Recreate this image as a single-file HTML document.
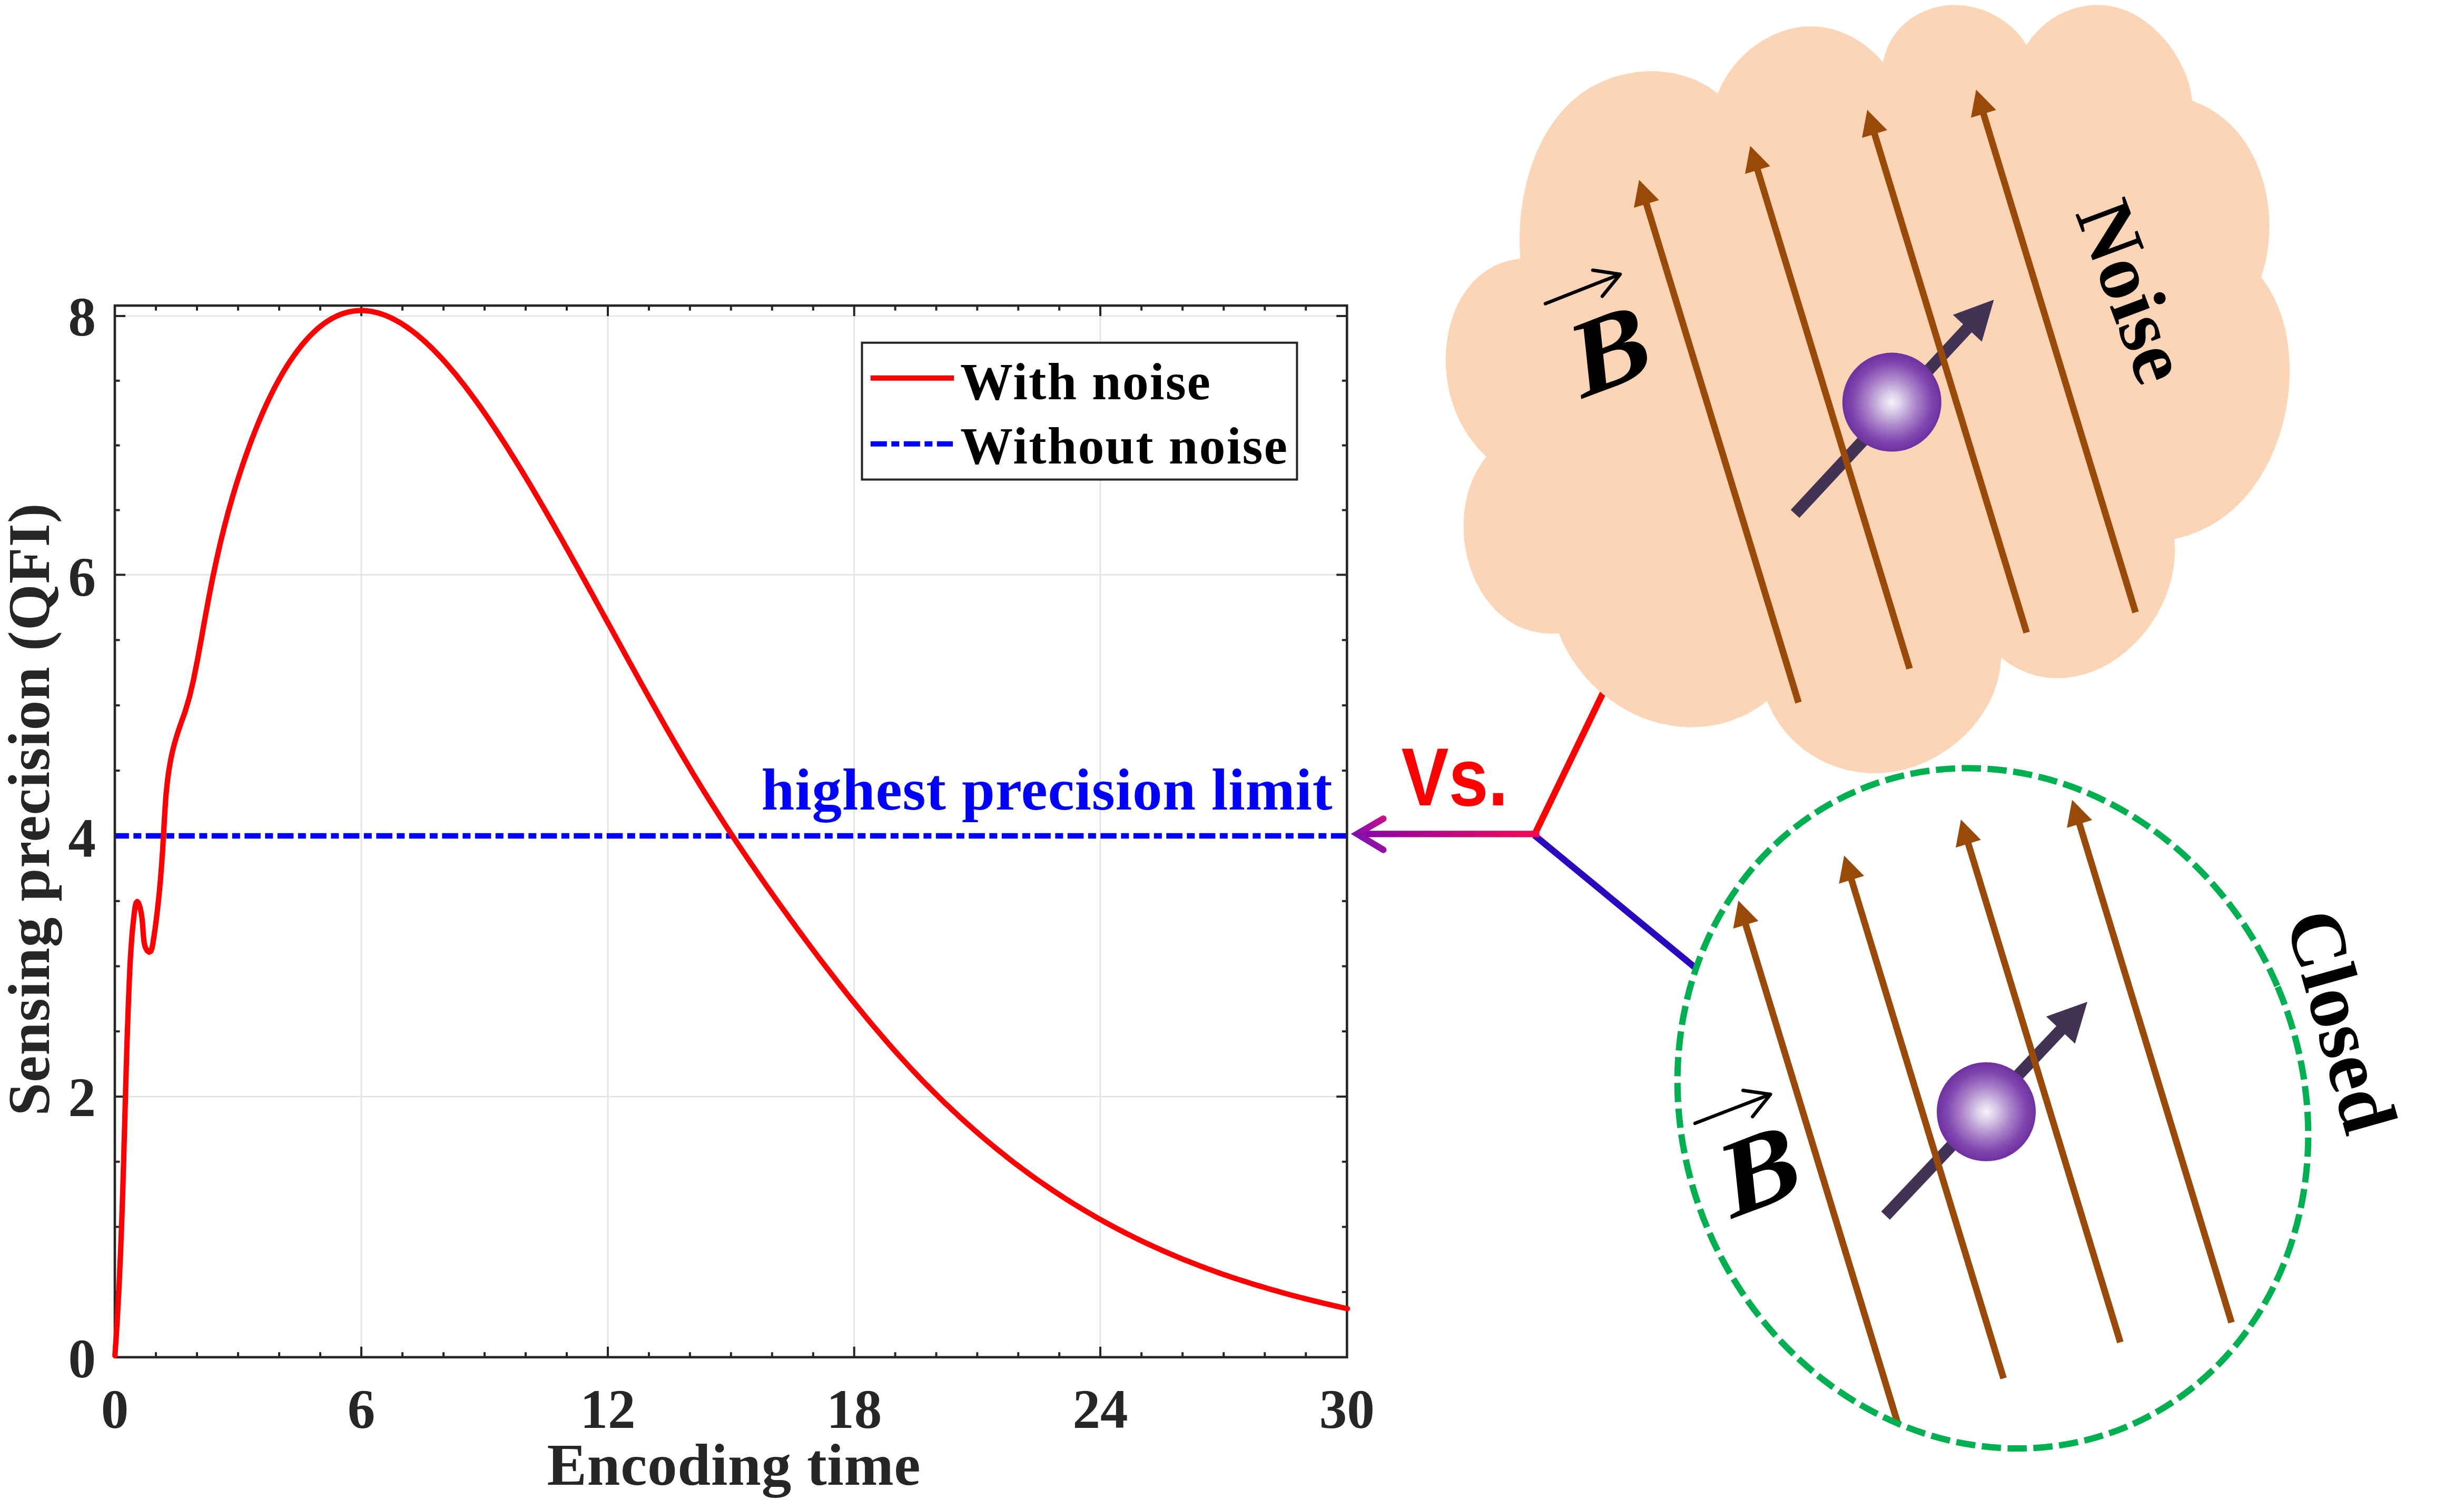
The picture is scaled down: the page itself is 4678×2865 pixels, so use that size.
<!DOCTYPE html>
<html lang="en"><head><meta charset="utf-8"><title>Sensing precision with and without noise</title>
<style>
html,body{margin:0;padding:0;background:#fff;}
body{width:4678px;height:2865px;overflow:hidden;}
svg{display:block;}
text{font-family:'Liberation Serif','Times New Roman',serif;font-weight:bold;}
.tk{font-size:105px;fill:#262626;}
.lb{font-size:113px;fill:#262626;}
.lg{font-size:100px;fill:#000;}
</style></head><body>
<svg width="4678" height="2865" viewBox="0 0 4678 2865">
<defs>
<radialGradient id="sph" cx="50%" cy="50%" r="50%">
<stop offset="0" stop-color="#f7f4fb"/><stop offset="0.2" stop-color="#d9cbe8"/><stop offset="0.5" stop-color="#aa83c9"/><stop offset="0.8" stop-color="#8045ae"/><stop offset="1" stop-color="#7030a0"/>
</radialGradient>
<linearGradient id="arr" gradientUnits="userSpaceOnUse" x1="2580" y1="0" x2="2923" y2="0">
<stop offset="0" stop-color="#8408ac"/><stop offset="1" stop-color="#f80850"/>
</linearGradient>
<linearGradient id="arh" gradientUnits="userSpaceOnUse" x1="2565" y1="1614" x2="2627" y2="1554">
<stop offset="0" stop-color="#6010c0"/><stop offset="1" stop-color="#c81088"/>
</linearGradient>
</defs>
<rect width="4678" height="2865" fill="#fff"/>

<g id="plot">
<g stroke="#e2e2e2" stroke-width="2.6" fill="none">
<line x1="686.0" y1="580.2" x2="686.0" y2="2576.8"/>
<line x1="1154.0" y1="580.2" x2="1154.0" y2="2576.8"/>
<line x1="1621.7" y1="580.2" x2="1621.7" y2="2576.8"/>
<line x1="2089.0" y1="580.2" x2="2089.0" y2="2576.8"/>
<line x1="218.0" y1="2082.0" x2="2557.3" y2="2082.0"/>
<line x1="218.0" y1="1091.3" x2="2557.3" y2="1091.3"/>
<line x1="218.0" y1="600.0" x2="2557.3" y2="600.0"/>
</g>
<g stroke="#262626" stroke-width="4" fill="none">
<line x1="296.0" y1="2576.8" x2="296.0" y2="2567.3"/><line x1="296.0" y1="580.2" x2="296.0" y2="589.7"/>
<line x1="374.0" y1="2576.8" x2="374.0" y2="2567.3"/><line x1="374.0" y1="580.2" x2="374.0" y2="589.7"/>
<line x1="452.0" y1="2576.8" x2="452.0" y2="2567.3"/><line x1="452.0" y1="580.2" x2="452.0" y2="589.7"/>
<line x1="530.0" y1="2576.8" x2="530.0" y2="2567.3"/><line x1="530.0" y1="580.2" x2="530.0" y2="589.7"/>
<line x1="608.0" y1="2576.8" x2="608.0" y2="2567.3"/><line x1="608.0" y1="580.2" x2="608.0" y2="589.7"/>
<line x1="686.0" y1="2576.8" x2="686.0" y2="2556.8"/><line x1="686.0" y1="580.2" x2="686.0" y2="600.2"/>
<line x1="764.0" y1="2576.8" x2="764.0" y2="2567.3"/><line x1="764.0" y1="580.2" x2="764.0" y2="589.7"/>
<line x1="842.0" y1="2576.8" x2="842.0" y2="2567.3"/><line x1="842.0" y1="580.2" x2="842.0" y2="589.7"/>
<line x1="920.0" y1="2576.8" x2="920.0" y2="2567.3"/><line x1="920.0" y1="580.2" x2="920.0" y2="589.7"/>
<line x1="998.0" y1="2576.8" x2="998.0" y2="2567.3"/><line x1="998.0" y1="580.2" x2="998.0" y2="589.7"/>
<line x1="1076.0" y1="2576.8" x2="1076.0" y2="2567.3"/><line x1="1076.0" y1="580.2" x2="1076.0" y2="589.7"/>
<line x1="1154.0" y1="2576.8" x2="1154.0" y2="2556.8"/><line x1="1154.0" y1="580.2" x2="1154.0" y2="600.2"/>
<line x1="1232.0" y1="2576.8" x2="1232.0" y2="2567.3"/><line x1="1232.0" y1="580.2" x2="1232.0" y2="589.7"/>
<line x1="1309.9" y1="2576.8" x2="1309.9" y2="2567.3"/><line x1="1309.9" y1="580.2" x2="1309.9" y2="589.7"/>
<line x1="1387.8" y1="2576.8" x2="1387.8" y2="2567.3"/><line x1="1387.8" y1="580.2" x2="1387.8" y2="589.7"/>
<line x1="1465.8" y1="2576.8" x2="1465.8" y2="2567.3"/><line x1="1465.8" y1="580.2" x2="1465.8" y2="589.7"/>
<line x1="1543.8" y1="2576.8" x2="1543.8" y2="2567.3"/><line x1="1543.8" y1="580.2" x2="1543.8" y2="589.7"/>
<line x1="1621.7" y1="2576.8" x2="1621.7" y2="2556.8"/><line x1="1621.7" y1="580.2" x2="1621.7" y2="600.2"/>
<line x1="1699.6" y1="2576.8" x2="1699.6" y2="2567.3"/><line x1="1699.6" y1="580.2" x2="1699.6" y2="589.7"/>
<line x1="1777.5" y1="2576.8" x2="1777.5" y2="2567.3"/><line x1="1777.5" y1="580.2" x2="1777.5" y2="589.7"/>
<line x1="1855.3" y1="2576.8" x2="1855.3" y2="2567.3"/><line x1="1855.3" y1="580.2" x2="1855.3" y2="589.7"/>
<line x1="1933.2" y1="2576.8" x2="1933.2" y2="2567.3"/><line x1="1933.2" y1="580.2" x2="1933.2" y2="589.7"/>
<line x1="2011.1" y1="2576.8" x2="2011.1" y2="2567.3"/><line x1="2011.1" y1="580.2" x2="2011.1" y2="589.7"/>
<line x1="2089.0" y1="2576.8" x2="2089.0" y2="2556.8"/><line x1="2089.0" y1="580.2" x2="2089.0" y2="600.2"/>
<line x1="2167.1" y1="2576.8" x2="2167.1" y2="2567.3"/><line x1="2167.1" y1="580.2" x2="2167.1" y2="589.7"/>
<line x1="2245.1" y1="2576.8" x2="2245.1" y2="2567.3"/><line x1="2245.1" y1="580.2" x2="2245.1" y2="589.7"/>
<line x1="2323.2" y1="2576.8" x2="2323.2" y2="2567.3"/><line x1="2323.2" y1="580.2" x2="2323.2" y2="589.7"/>
<line x1="2401.2" y1="2576.8" x2="2401.2" y2="2567.3"/><line x1="2401.2" y1="580.2" x2="2401.2" y2="589.7"/>
<line x1="2479.2" y1="2576.8" x2="2479.2" y2="2567.3"/><line x1="2479.2" y1="580.2" x2="2479.2" y2="589.7"/>
<line x1="218.0" y1="2453.1" x2="227.5" y2="2453.1"/><line x1="2557.3" y1="2453.1" x2="2547.8" y2="2453.1"/>
<line x1="218.0" y1="2329.4" x2="227.5" y2="2329.4"/><line x1="2557.3" y1="2329.4" x2="2547.8" y2="2329.4"/>
<line x1="218.0" y1="2205.7" x2="227.5" y2="2205.7"/><line x1="2557.3" y1="2205.7" x2="2547.8" y2="2205.7"/>
<line x1="218.0" y1="2082.0" x2="238.0" y2="2082.0"/><line x1="2557.3" y1="2082.0" x2="2537.3" y2="2082.0"/>
<line x1="218.0" y1="1958.2" x2="227.5" y2="1958.2"/><line x1="2557.3" y1="1958.2" x2="2547.8" y2="1958.2"/>
<line x1="218.0" y1="1834.5" x2="227.5" y2="1834.5"/><line x1="2557.3" y1="1834.5" x2="2547.8" y2="1834.5"/>
<line x1="218.0" y1="1710.8" x2="227.5" y2="1710.8"/><line x1="2557.3" y1="1710.8" x2="2547.8" y2="1710.8"/>
<line x1="218.0" y1="1587.0" x2="238.0" y2="1587.0"/><line x1="2557.3" y1="1587.0" x2="2537.3" y2="1587.0"/>
<line x1="218.0" y1="1463.1" x2="227.5" y2="1463.1"/><line x1="2557.3" y1="1463.1" x2="2547.8" y2="1463.1"/>
<line x1="218.0" y1="1339.2" x2="227.5" y2="1339.2"/><line x1="2557.3" y1="1339.2" x2="2547.8" y2="1339.2"/>
<line x1="218.0" y1="1215.2" x2="227.5" y2="1215.2"/><line x1="2557.3" y1="1215.2" x2="2547.8" y2="1215.2"/>
<line x1="218.0" y1="1091.3" x2="238.0" y2="1091.3"/><line x1="2557.3" y1="1091.3" x2="2537.3" y2="1091.3"/>
<line x1="218.0" y1="968.5" x2="227.5" y2="968.5"/><line x1="2557.3" y1="968.5" x2="2547.8" y2="968.5"/>
<line x1="218.0" y1="845.6" x2="227.5" y2="845.6"/><line x1="2557.3" y1="845.6" x2="2547.8" y2="845.6"/>
<line x1="218.0" y1="722.8" x2="227.5" y2="722.8"/><line x1="2557.3" y1="722.8" x2="2547.8" y2="722.8"/>
<line x1="218.0" y1="600.0" x2="238.0" y2="600.0"/><line x1="2557.3" y1="600.0" x2="2537.3" y2="600.0"/>
</g>
<line x1="218.0" y1="1587.0" x2="2557.3" y2="1587.0" stroke="#0000ff" stroke-width="10.3" stroke-dasharray="30.5 8.5 15 8.5" stroke-dashoffset="3.7"/>
<rect x="218.0" y="580.2" width="2339.3" height="1996.6" fill="none" stroke="#262626" stroke-width="4.6"/>
<path d="M218.2 2574.0 L218.8 2564.8 L219.4 2555.5 L220.1 2546.3 L220.7 2537.1 L221.2 2527.8 L221.8 2518.6 L222.4 2509.3 L222.9 2500.1 L223.4 2490.9 L223.9 2481.6 L224.4 2472.4 L224.9 2463.1 L225.4 2453.8 L225.9 2444.6 L226.3 2435.3 L226.8 2426.1 L227.2 2416.8 L227.6 2407.5 L228.0 2398.3 L228.4 2389.0 L228.8 2379.7 L229.2 2370.5 L229.5 2361.2 L229.9 2351.9 L230.2 2342.7 L230.6 2333.4 L230.9 2324.1 L231.3 2314.8 L231.6 2305.5 L231.9 2296.3 L232.2 2287.0 L232.5 2277.7 L232.8 2268.4 L233.1 2259.2 L233.4 2249.9 L233.7 2240.6 L233.9 2231.3 L234.2 2222.0 L234.5 2212.8 L234.8 2203.5 L235.0 2194.2 L235.3 2184.9 L235.5 2175.6 L235.8 2166.4 L236.1 2157.1 L236.3 2147.8 L236.6 2138.5 L236.8 2129.2 L237.1 2120.0 L237.3 2110.7 L237.6 2101.4 L237.9 2092.2 L238.1 2082.9 L238.4 2073.6 L238.6 2064.3 L238.9 2055.1 L239.2 2045.8 L239.4 2036.6 L239.7 2027.3 L240.0 2018.0 L240.3 2008.8 L240.5 1999.5 L240.8 1990.3 L241.1 1981.0 L241.4 1971.8 L241.7 1962.5 L242.0 1953.3 L242.4 1944.0 L242.7 1934.8 L243.0 1925.6 L243.3 1916.3 L243.7 1907.1 L244.0 1897.9 L244.4 1888.7 L244.8 1879.4 L245.2 1870.2 L245.5 1861.0 L246.0 1851.8 L246.4 1842.5 L246.8 1833.3 L247.3 1824.0 L247.9 1814.7 L248.4 1805.4 L249.1 1796.0 L249.8 1786.6 L250.5 1777.1 L251.3 1767.5 L252.3 1757.8 L253.3 1748.1 L254.4 1738.3 L255.6 1728.5 L256.9 1719.7 L258.6 1713.6 L260.6 1711.7 L262.9 1714.5 L265.4 1721.3 L267.6 1730.9 L269.5 1742.4 L270.7 1754.7 L271.6 1767.1 L272.4 1779.0 L273.7 1789.7 L275.9 1798.6 L279.3 1804.9 L283.2 1807.8 L286.4 1806.0 L288.6 1800.0 L290.2 1791.6 L291.6 1782.6 L293.0 1773.5 L294.3 1764.4 L295.5 1755.3 L296.7 1746.1 L297.8 1736.9 L298.9 1727.7 L299.9 1718.4 L300.9 1709.1 L301.9 1699.8 L302.8 1690.5 L303.6 1681.1 L304.5 1671.7 L305.2 1662.3 L306.0 1653.0 L306.7 1643.6 L307.4 1634.2 L308.0 1624.8 L308.7 1615.4 L309.2 1606.0 L309.8 1596.7 L310.4 1587.3 L310.9 1578.0 L311.4 1568.7 L311.9 1559.4 L312.4 1550.1 L313.0 1540.8 L313.6 1531.6 L314.2 1522.4 L314.9 1513.2 L315.7 1504.0 L316.6 1494.9 L317.6 1485.7 L318.7 1476.6 L319.9 1467.5 L321.3 1458.5 L322.8 1449.4 L324.5 1440.4 L326.4 1431.4 L328.5 1422.4 L330.8 1413.5 L333.3 1404.6 L336.0 1395.6 L338.9 1386.8 L341.9 1377.9 L345.0 1369.1 L348.2 1360.3 L351.3 1351.5 L360.0 1322.2 L367.4 1290.6 L374.7 1253.7 L382.1 1213.6 L389.4 1172.6 L396.8 1132.7 L404.1 1095.4 L411.5 1060.9 L418.8 1028.9 L426.2 999.0 L433.5 971.3 L440.9 945.3 L448.2 920.9 L455.6 898.0 L462.9 876.1 L470.3 855.3 L477.6 835.4 L485.0 816.5 L492.3 798.5 L499.7 781.4 L507.0 765.2 L514.4 749.9 L521.7 735.3 L529.1 721.6 L536.4 708.7 L543.8 696.5 L551.1 685.1 L558.5 674.4 L565.9 664.3 L573.2 655.0 L580.6 646.4 L587.9 638.4 L595.3 631.0 L602.6 624.3 L610.0 618.3 L617.3 612.8 L624.7 608.0 L632.0 603.7 L639.4 600.0 L646.7 596.9 L654.1 594.4 L661.4 592.4 L668.8 591.0 L676.1 590.0 L683.5 589.6 L690.8 589.7 L698.2 590.3 L705.5 591.3 L712.9 592.9 L720.2 594.8 L727.6 597.3 L734.9 600.1 L742.3 603.4 L749.6 607.1 L757.0 611.2 L764.4 615.7 L771.7 620.5 L779.1 625.8 L786.4 631.3 L793.8 637.3 L801.1 643.5 L808.5 650.1 L815.8 657.0 L823.2 664.2 L830.5 671.8 L837.9 679.6 L845.2 687.7 L852.6 696.1 L859.9 704.7 L867.3 713.6 L874.6 722.8 L882.0 732.2 L889.3 741.8 L896.7 751.7 L904.0 761.8 L911.4 772.1 L918.7 782.5 L926.1 793.2 L933.4 804.1 L940.8 815.2 L948.1 826.4 L955.5 837.8 L962.9 849.3 L970.2 861.0 L977.6 872.8 L984.9 884.7 L992.3 896.7 L999.6 908.9 L1007.0 921.2 L1014.3 933.6 L1021.7 946.1 L1029.0 958.7 L1036.4 971.3 L1043.7 984.1 L1051.1 996.9 L1058.4 1009.9 L1065.8 1022.8 L1073.1 1035.9 L1080.5 1049.0 L1087.8 1062.2 L1095.2 1075.4 L1102.5 1088.6 L1109.9 1101.9 L1117.2 1115.3 L1124.6 1128.6 L1131.9 1142.0 L1139.3 1155.4 L1146.6 1168.8 L1154.0 1182.2 L1161.4 1195.6 L1168.7 1209.0 L1176.1 1222.4 L1183.4 1235.8 L1190.8 1249.2 L1198.1 1262.5 L1205.5 1275.9 L1212.8 1289.1 L1220.2 1302.4 L1227.5 1315.6 L1234.9 1328.7 L1242.2 1341.8 L1249.6 1354.8 L1256.9 1367.8 L1264.3 1380.7 L1271.6 1393.5 L1279.0 1406.2 L1286.3 1418.9 L1293.7 1431.4 L1301.0 1443.9 L1308.4 1456.2 L1315.7 1468.5 L1323.1 1480.6 L1330.4 1492.6 L1337.8 1504.5 L1345.1 1516.3 L1352.5 1528.0 L1359.9 1539.6 L1367.2 1551.1 L1374.6 1562.5 L1381.9 1573.8 L1389.3 1585.0 L1396.6 1596.1 L1404.0 1607.1 L1411.3 1618.0 L1418.7 1628.9 L1426.0 1639.7 L1433.4 1650.4 L1440.7 1661.0 L1448.1 1671.6 L1455.4 1682.1 L1462.8 1692.5 L1470.1 1702.9 L1477.5 1713.2 L1484.8 1723.4 L1492.2 1733.6 L1499.5 1743.8 L1506.9 1753.8 L1514.2 1763.9 L1521.6 1773.9 L1528.9 1783.8 L1536.3 1793.7 L1543.6 1803.5 L1551.0 1813.3 L1558.3 1823.0 L1565.7 1832.6 L1573.1 1842.2 L1580.4 1851.7 L1587.8 1861.1 L1595.1 1870.5 L1602.5 1879.8 L1609.8 1889.1 L1617.2 1898.2 L1624.5 1907.3 L1631.9 1916.4 L1639.2 1925.3 L1646.6 1934.2 L1653.9 1943.0 L1661.3 1951.7 L1668.6 1960.3 L1676.0 1968.9 L1683.3 1977.4 L1690.7 1985.8 L1698.0 1994.1 L1705.4 2002.3 L1712.7 2010.4 L1720.1 2018.4 L1727.4 2026.4 L1734.8 2034.2 L1742.1 2042.0 L1749.5 2049.7 L1756.8 2057.2 L1764.2 2064.7 L1771.6 2072.1 L1778.9 2079.4 L1786.3 2086.6 L1793.6 2093.8 L1801.0 2100.8 L1808.3 2107.8 L1815.7 2114.6 L1823.0 2121.4 L1830.4 2128.1 L1837.7 2134.7 L1845.1 2141.3 L1852.4 2147.7 L1859.8 2154.1 L1867.1 2160.4 L1874.5 2166.6 L1881.8 2172.7 L1889.2 2178.8 L1896.5 2184.7 L1903.9 2190.6 L1911.2 2196.4 L1918.6 2202.2 L1925.9 2207.9 L1933.3 2213.4 L1940.6 2219.0 L1948.0 2224.4 L1955.3 2229.8 L1962.7 2235.1 L1970.1 2240.3 L1977.4 2245.4 L1984.8 2250.5 L1992.1 2255.5 L1999.5 2260.5 L2006.8 2265.3 L2014.2 2270.1 L2021.5 2274.9 L2028.9 2279.6 L2036.2 2284.2 L2043.6 2288.7 L2050.9 2293.2 L2058.3 2297.6 L2065.6 2301.9 L2073.0 2306.2 L2080.3 2310.5 L2087.7 2314.6 L2095.0 2318.7 L2102.4 2322.8 L2109.7 2326.8 L2117.1 2330.7 L2124.4 2334.6 L2131.8 2338.4 L2139.1 2342.1 L2146.5 2345.8 L2153.8 2349.5 L2161.2 2353.1 L2168.6 2356.6 L2175.9 2360.1 L2183.3 2363.5 L2190.6 2366.9 L2198.0 2370.2 L2205.3 2373.5 L2212.7 2376.7 L2220.0 2379.9 L2227.4 2383.0 L2234.7 2386.1 L2242.1 2389.2 L2249.4 2392.2 L2256.8 2395.1 L2264.1 2398.0 L2271.5 2400.8 L2278.8 2403.7 L2286.2 2406.4 L2293.5 2409.2 L2300.9 2411.8 L2308.2 2414.5 L2315.6 2417.1 L2322.9 2419.7 L2330.3 2422.2 L2337.6 2424.7 L2345.0 2427.1 L2352.3 2429.5 L2359.7 2431.9 L2367.1 2434.2 L2374.4 2436.5 L2381.8 2438.8 L2389.1 2441.0 L2396.5 2443.2 L2403.8 2445.4 L2411.2 2447.6 L2418.5 2449.7 L2425.9 2451.7 L2433.2 2453.8 L2440.6 2455.8 L2447.9 2457.8 L2455.3 2459.8 L2462.6 2461.7 L2470.0 2463.6 L2477.3 2465.5 L2484.7 2467.4 L2492.0 2469.2 L2499.4 2471.0 L2506.7 2472.8 L2514.1 2474.6 L2521.4 2476.3 L2528.8 2478.0 L2536.1 2479.7 L2543.5 2481.4 L2550.8 2483.1 L2558.2 2484.7" fill="none" stroke="#ff0000" stroke-width="10.2" stroke-linejoin="round" stroke-linecap="round"/>
<text class="tk" x="218.0" y="2711" text-anchor="middle">0</text>
<text class="tk" x="686.0" y="2711" text-anchor="middle">6</text>
<text class="tk" x="1154.0" y="2711" text-anchor="middle">12</text>
<text class="tk" x="1621.7" y="2711" text-anchor="middle">18</text>
<text class="tk" x="2089.0" y="2711" text-anchor="middle">24</text>
<text class="tk" x="2557.3" y="2711" text-anchor="middle">30</text>
<text class="tk" x="182" y="2614.8" text-anchor="end">0</text>
<text class="tk" x="182" y="2118.8" text-anchor="end">2</text>
<text class="tk" x="182" y="1627.0" text-anchor="end">4</text>
<text class="tk" x="182" y="1131.3" text-anchor="end">6</text>
<text class="tk" x="182" y="636.8" text-anchor="end">8</text>
<text class="lb" x="1393" y="2818.5" text-anchor="middle" textLength="709" lengthAdjust="spacing">Encoding time</text>
<text class="lb" transform="translate(92.8 1537) rotate(-90)" text-anchor="middle" textLength="1163" lengthAdjust="spacing">Sensing precision (QFI)</text>
<text x="1445.5" y="1536.5" font-size="113" fill="#0000ff" textLength="1084" lengthAdjust="spacing">highest precision limit</text>
<rect x="1636.5" y="650.7" width="825.9" height="259.8" fill="#fff" stroke="#262626" stroke-width="4"/>
<line x1="1652.8" y1="717.7" x2="1811" y2="717.7" stroke="#ff0000" stroke-width="10"/>
<line x1="1652.8" y1="842.7" x2="1809" y2="842.7" stroke="#0000ff" stroke-width="10" stroke-dasharray="31 8.5 15 8.5"/>
<text class="lg" x="1823" y="758.3" textLength="475" lengthAdjust="spacing">With noise</text>
<text class="lg" x="1823" y="880" textLength="621" lengthAdjust="spacing">Without noise</text>
</g>
<g id="connector" fill="none" stroke-linecap="butt">
<line x1="2914" y1="1583.4" x2="3049.5" y2="1303" stroke="#ff0000" stroke-width="12.3"/>
<line x1="2913" y1="1585.7" x2="3219" y2="1837.8" stroke="#2a08be" stroke-width="12.3"/>
<path d="M2922.6 1583.4 L2581 1583.4" stroke="url(#arr)" stroke-width="12.3"/>
<path d="M2626.3 1554.4 L2576.6 1583.4 L2626.3 1613.6" stroke="url(#arh)" stroke-width="12.3" stroke-linecap="round" stroke-linejoin="miter"/>
</g>
<text transform="translate(2660.5 1528.6) scale(0.871 1)" font-size="155" fill="#ff0000" style="font-family:'Liberation Sans',Arial,sans-serif;font-weight:bold">Vs.</text>
<g id="noisy">
<path d="M3575.0 118.0 L3578.3 104.3 L3582.8 91.4 L3588.5 79.4 L3595.3 68.3 L3603.1 58.0 L3611.8 48.7 L3621.3 40.3 L3631.6 32.8 L3642.5 26.4 L3653.9 20.9 L3665.8 16.5 L3678.2 13.1 L3690.7 10.8 L3703.5 9.6 L3716.4 9.6 L3729.4 10.6 L3742.2 12.7 L3754.9 15.9 L3767.4 20.0 L3779.5 25.2 L3791.2 31.2 L3802.3 38.2 L3812.9 46.1 L3822.8 54.8 L3831.9 64.3 L3840.1 74.6 L3847.4 85.6 L3857.4 71.3 L3868.6 58.5 L3880.8 47.1 L3893.8 37.1 L3907.6 28.6 L3922.0 21.7 L3936.9 16.3 L3952.1 12.4 L3967.5 10.1 L3983.1 9.5 L3998.6 10.4 L4014.0 13.0 L4029.1 17.3 L4043.8 23.3 L4058.0 30.8 L4071.6 39.7 L4084.6 49.9 L4096.9 61.2 L4108.4 73.5 L4119.0 86.6 L4128.7 100.5 L4137.3 115.0 L4144.8 129.9 L4151.1 145.1 L4156.1 160.5 L4159.8 176.0 L4162.0 191.3 L4176.3 197.0 L4189.8 203.6 L4202.6 211.1 L4214.6 219.4 L4225.9 228.5 L4236.4 238.3 L4246.2 248.8 L4255.3 260.0 L4263.7 271.7 L4271.3 284.0 L4278.2 296.7 L4284.4 309.9 L4289.9 323.5 L4294.6 337.4 L4298.7 351.6 L4302.0 366.0 L4304.7 380.7 L4306.6 395.4 L4307.8 410.3 L4308.4 425.1 L4308.2 440.0 L4307.4 454.8 L4305.9 469.5 L4303.7 484.1 L4300.8 498.4 L4297.2 512.4 L4293.0 526.2 L4305.8 544.4 L4316.7 563.7 L4325.8 583.8 L4333.1 604.6 L4338.8 626.1 L4342.9 648.1 L4345.5 670.5 L4346.8 693.2 L4346.7 716.1 L4345.4 739.0 L4342.7 761.8 L4338.7 784.5 L4333.4 806.8 L4326.9 828.8 L4319.1 850.2 L4310.1 871.0 L4299.8 891.0 L4288.3 910.1 L4275.5 928.2 L4261.5 945.3 L4246.3 961.0 L4229.8 975.5 L4212.0 988.5 L4193.0 999.9 L4172.7 1009.6 L4151.1 1017.4 L4128.3 1023.4 L4129.3 1041.9 L4128.7 1060.4 L4126.5 1078.8 L4122.9 1097.0 L4118.0 1115.0 L4111.7 1132.6 L4104.1 1149.7 L4095.3 1166.3 L4085.4 1182.2 L4074.5 1197.4 L4062.5 1211.7 L4049.6 1225.1 L4035.8 1237.5 L4021.3 1248.7 L4006.0 1258.7 L3990.0 1267.4 L3973.4 1274.7 L3956.3 1280.4 L3938.9 1284.6 L3921.2 1287.1 L3903.4 1287.7 L3885.5 1286.5 L3867.7 1283.3 L3850.1 1278.0 L3832.8 1270.6 L3815.9 1260.9 L3799.6 1248.8 L3797.2 1272.0 L3792.2 1294.5 L3784.7 1316.2 L3775.0 1337.0 L3763.2 1356.6 L3749.4 1375.1 L3734.0 1392.3 L3717.0 1408.0 L3698.7 1422.2 L3679.2 1434.7 L3658.8 1445.4 L3637.6 1454.2 L3615.8 1460.9 L3593.6 1465.5 L3571.2 1467.9 L3548.8 1467.9 L3526.6 1465.8 L3504.7 1461.5 L3483.3 1455.0 L3462.7 1446.5 L3443.0 1435.8 L3424.5 1423.2 L3407.2 1408.6 L3391.4 1392.0 L3377.3 1373.5 L3365.0 1353.2 L3354.8 1331.0 L3339.5 1342.1 L3323.8 1351.7 L3307.6 1359.9 L3291.0 1366.7 L3274.1 1372.2 L3257.0 1376.3 L3239.7 1379.1 L3222.3 1380.5 L3204.9 1380.7 L3187.5 1379.6 L3170.2 1377.3 L3153.0 1373.8 L3136.1 1369.1 L3119.5 1363.2 L3103.2 1356.2 L3087.4 1348.0 L3072.0 1338.9 L3057.2 1328.8 L3043.0 1317.7 L3029.5 1305.8 L3016.8 1293.1 L3004.8 1279.6 L2993.8 1265.4 L2983.7 1250.6 L2974.6 1235.1 L2966.6 1219.2 L2959.8 1202.7 L2941.6 1203.1 L2924.3 1201.6 L2907.9 1198.3 L2892.3 1193.3 L2877.7 1186.7 L2864.0 1178.6 L2851.3 1169.1 L2839.5 1158.5 L2828.7 1146.6 L2818.9 1133.8 L2810.2 1120.0 L2802.4 1105.5 L2795.7 1090.2 L2790.1 1074.4 L2785.6 1058.1 L2782.1 1041.4 L2779.8 1024.5 L2778.7 1007.5 L2778.6 990.5 L2779.8 973.6 L2782.1 956.8 L2785.6 940.4 L2790.4 924.4 L2796.4 909.0 L2803.7 894.2 L2812.2 880.2 L2822.0 867.0 L2809.7 855.0 L2798.4 842.0 L2788.1 828.2 L2778.9 813.5 L2770.8 798.2 L2763.7 782.3 L2757.8 765.9 L2752.9 749.1 L2749.1 731.9 L2746.5 714.5 L2745.0 696.9 L2744.7 679.3 L2745.5 661.7 L2747.5 644.2 L2750.7 626.9 L2755.1 610.0 L2760.7 593.7 L2767.6 578.0 L2775.6 563.1 L2785.0 549.2 L2795.5 536.4 L2807.4 524.8 L2820.6 514.7 L2835.0 506.1 L2850.8 499.1 L2867.9 494.1 L2886.3 491.0 L2885.1 468.6 L2885.0 445.7 L2886.1 422.4 L2888.4 399.0 L2891.9 375.5 L2896.7 352.3 L2902.8 329.3 L2910.2 306.9 L2918.9 285.1 L2929.1 264.2 L2940.6 244.3 L2953.5 225.5 L2968.0 208.2 L2983.9 192.3 L3001.3 178.1 L3020.2 165.8 L3040.5 155.4 L3061.8 147.1 L3084.0 140.9 L3106.8 136.8 L3129.8 135.1 L3153.0 135.7 L3176.0 138.8 L3198.6 144.4 L3220.5 152.6 L3241.5 163.5 L3261.4 177.2 L3267.1 163.9 L3273.9 151.1 L3281.6 138.7 L3290.2 126.9 L3299.6 115.8 L3309.8 105.3 L3320.6 95.6 L3332.1 86.6 L3344.1 78.5 L3356.6 71.3 L3369.5 65.0 L3382.7 59.8 L3396.2 55.6 L3410.0 52.5 L3423.8 50.6 L3437.7 50.0 L3451.6 50.6 L3465.4 52.5 L3479.1 55.6 L3492.6 59.8 L3505.7 65.2 L3518.6 71.6 L3531.0 79.0 L3542.9 87.4 L3554.2 96.8 L3565.0 107.0 Z" fill="#fbd5b5"/>
<line x1="3408.0" y1="975.7" x2="3736.5" y2="621.8" stroke="#423354" stroke-width="22.5"/><polygon points="3785.5,569.0 3762.6,648.7 3707.7,597.7" fill="#423354"/>
<line x1="3414.5" y1="1333.9" x2="3125.3" y2="385.4" stroke="#994a09" stroke-width="12.6"/><polygon points="3111.9,341.4 3149.8,380.0 3102.0,394.6" fill="#994a09"/>
<line x1="3625.5" y1="1269.5" x2="3336.3" y2="321.0" stroke="#994a09" stroke-width="12.6"/><polygon points="3322.9,277.0 3360.8,315.6 3313.0,330.2" fill="#994a09"/>
<line x1="3847.6" y1="1201.0" x2="3558.4" y2="252.5" stroke="#994a09" stroke-width="12.6"/><polygon points="3545.0,208.5 3582.9,247.1 3535.1,261.7" fill="#994a09"/>
<line x1="4054.4" y1="1162.7" x2="3765.2" y2="214.2" stroke="#994a09" stroke-width="12.6"/><polygon points="3751.8,170.2 3789.7,208.8 3741.9,223.4" fill="#994a09"/>
<circle cx="3591.8" cy="763.6" r="94" fill="url(#sph)"/>
<text transform="translate(3004 757) rotate(-21) skewX(-4) scale(1.2 1.07)" font-size="190" font-style="italic" fill="#000">B</text><g stroke="#000" stroke-width="6.5" fill="none" stroke-linecap="round" stroke-linejoin="round"><line x1="2934" y1="576.5" x2="3073" y2="521.8"/><polyline points="3024,513 3076,520.8 3042,562.5"/></g>
<text transform="translate(3939.4 405) rotate(69.5)" font-size="152" fill="#000">Noise</text>
</g>
<g id="closed">
<line x1="3579.8" y1="2308.0" x2="3913.6" y2="1954.4" stroke="#423354" stroke-width="22.5"/><polygon points="3963.0,1902.0 3939.5,1981.6 3884.9,1930.1" fill="#423354"/>
<line x1="3603.0" y1="2702.3" x2="3313.8" y2="1753.8" stroke="#994a09" stroke-width="12.6"/><polygon points="3300.4,1709.8 3338.3,1748.4 3290.5,1763.0" fill="#994a09"/>
<line x1="3803.8" y1="2617.0" x2="3514.6" y2="1668.5" stroke="#994a09" stroke-width="12.6"/><polygon points="3501.2,1624.5 3539.1,1663.1 3491.3,1677.7" fill="#994a09"/>
<line x1="4025.5" y1="2548.5" x2="3736.3" y2="1600.0" stroke="#994a09" stroke-width="12.6"/><polygon points="3722.9,1556.0 3760.8,1594.6 3713.0,1609.2" fill="#994a09"/>
<line x1="4236.6" y1="2511.0" x2="3947.4" y2="1562.5" stroke="#994a09" stroke-width="12.6"/><polygon points="3934.0,1518.5 3971.9,1557.1 3924.1,1571.7" fill="#994a09"/>
<circle cx="3771" cy="2110.8" r="94" fill="url(#sph)"/>
<ellipse cx="3783.5" cy="2104.2" rx="587.8" ry="655.8" transform="rotate(-23.1 3783.5 2104.2)" fill="none" stroke="#00b050" stroke-width="12" stroke-dasharray="36.5 12.5"/>
<text transform="translate(3288 2314) rotate(-21) skewX(-4) scale(1.2 1.07)" font-size="190" font-style="italic" fill="#000">B</text><g stroke="#000" stroke-width="6.5" fill="none" stroke-linecap="round" stroke-linejoin="round"><line x1="3218" y1="2132.8" x2="3358.3" y2="2078.7"/><polyline points="3309.3,2070.3 3361.3,2077.7 3327.3,2120"/></g>
<text transform="translate(4339 1745) rotate(74.3)" font-size="149" fill="#000">Closed</text>
</g>
</svg></body></html>
